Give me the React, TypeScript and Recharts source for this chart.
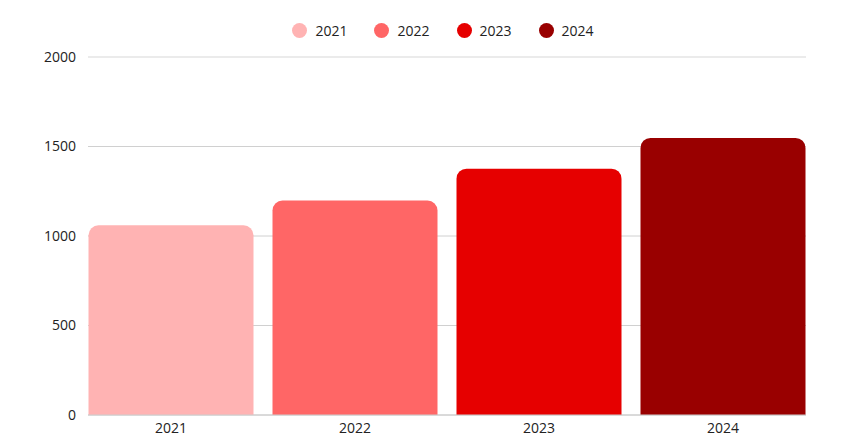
import { BarChart, Bar, Cell, XAxis, YAxis, CartesianGrid, Legend, ReferenceLine } from 'recharts';

const years = ['2021', '2022', '2023', '2024'];
const values = [1060, 1198, 1376, 1548];
const colors = ['#ffb3b3', '#ff6666', '#e60000', '#990000'];
const yTicks = [0, 500, 1000, 1500, 2000];

const chartData = years.map((year, i) => ({ year, value: values[i] }));

function YearLegend() {
  return (
    <div style={{ display: 'flex', justifyContent: 'center', gap: 27, height: 20, alignItems: 'center' }}>
      {years.map((y, i) => (
        <div key={y} style={{ display: 'flex', alignItems: 'center', gap: 8, fontSize: 14, color: '#222' }}>
          <span style={{ width: 15, height: 15, borderRadius: '50%', background: colors[i], display: 'inline-block' }} />
          <span>{y}</span>
        </div>
      ))}
    </div>
  );
}

export default function App() {
  return (
    <div style={{ position: 'absolute', left: 0, top: 0, fontFamily: '"Open Sans", sans-serif' }}>
      <BarChart
        width={850}
        height={441}
        data={chartData}
        margin={{ top: 37, right: 44, left: 0, bottom: 0 }}
        barCategoryGap={9.5}
      >
        <CartesianGrid vertical={false} stroke="#d0d0d0" />
        <ReferenceLine y={2000} stroke="#efefef" />
        <XAxis
          dataKey="year"
          axisLine={{ stroke: '#cccccc' }}
          tickLine={false}
          padding={{ left: -9, right: -9 }}
          height={26}
          tick={{ fill: '#222', fontSize: 14 }}
        />
        <YAxis
          width={88}
          domain={[0, 2000]}
          ticks={yTicks}
          axisLine={false}
          tickLine={false}
          tickMargin={6}
          tick={{ fill: '#222', fontSize: 14 }}
        />
        <Legend
          verticalAlign="top"
          wrapperStyle={{ top: 20, left: 84, width: 718 }}
          content={() => <YearLegend />}
        />
        <Bar dataKey="value" radius={[10, 10, 0, 0]} isAnimationActive={false}>
          {chartData.map((d, i) => (
            <Cell key={d.year} fill={colors[i]} />
          ))}
        </Bar>
      </BarChart>
    </div>
  );
}
